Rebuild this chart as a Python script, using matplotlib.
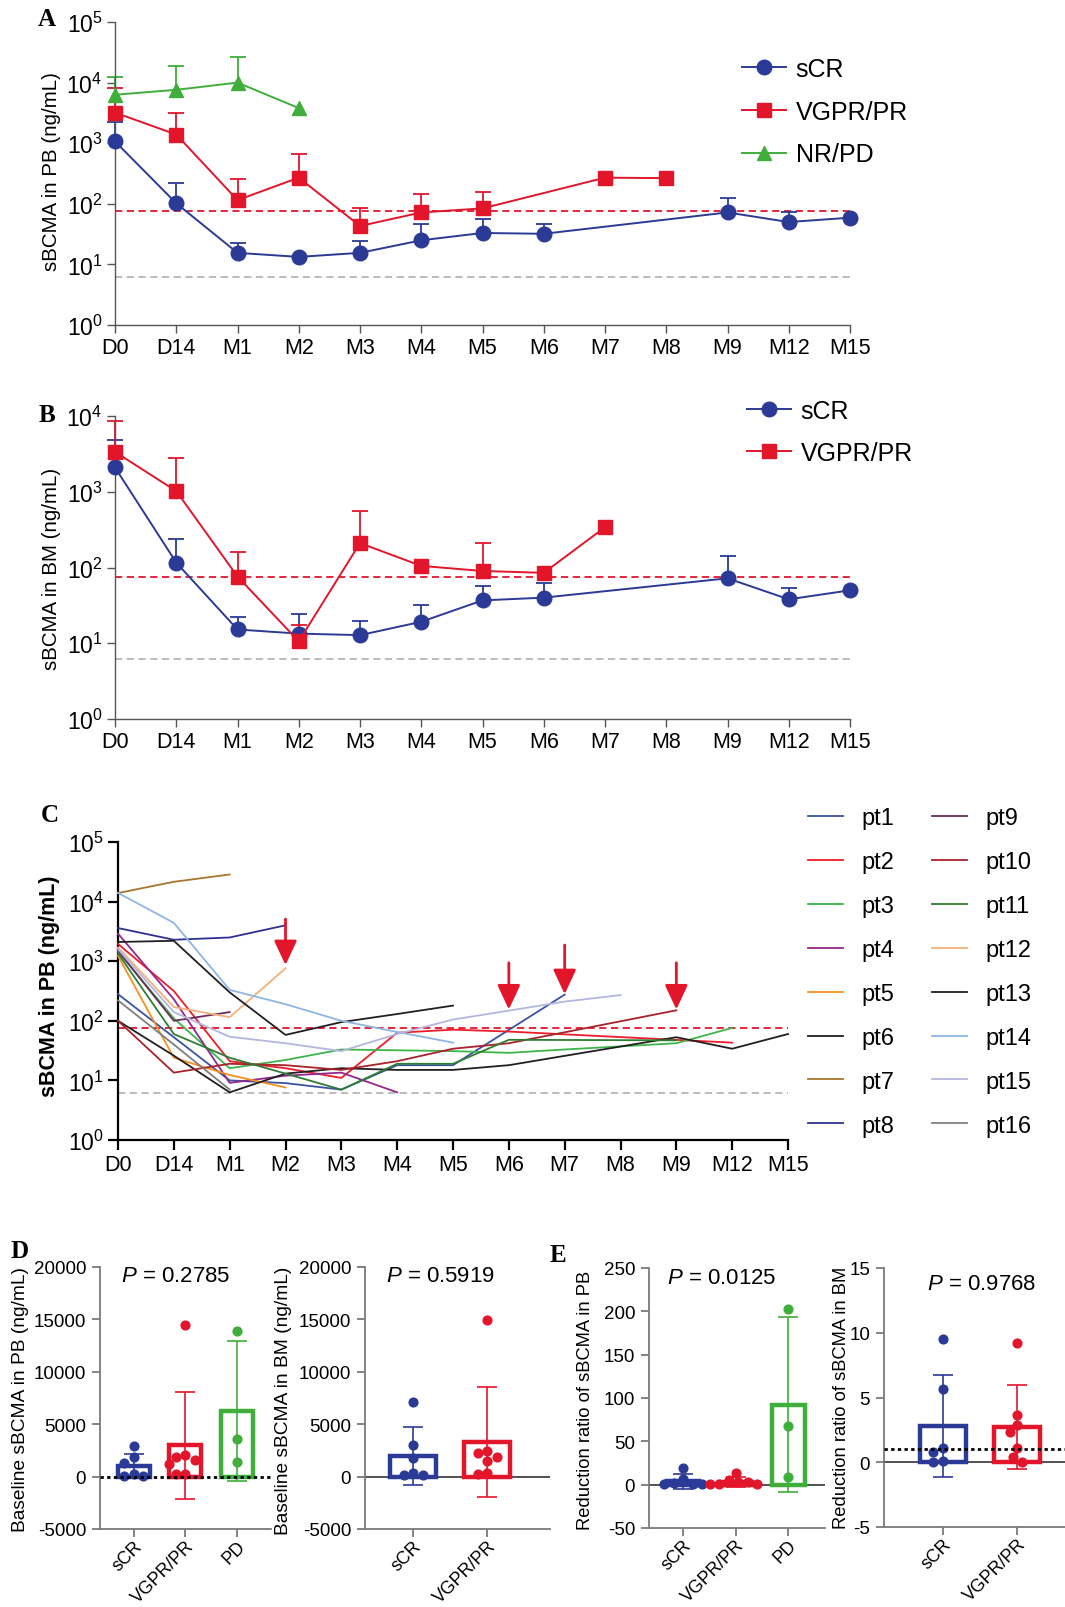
import numpy as np
import matplotlib
matplotlib.use('Agg')
import matplotlib.pyplot as plt

W, H = 1065, 1608
plt.rcParams['font.family'] = ['Liberation Sans', 'DejaVu Sans']
plt.rcParams['mathtext.fontset'] = 'custom'
plt.rcParams['mathtext.rm'] = 'Liberation Sans'
plt.rcParams['mathtext.it'] = 'Liberation Sans:italic'
plt.rcParams['mathtext.bf'] = 'Liberation Sans:bold'
plt.rcParams['axes.unicode_minus'] = False

BLUE, RED, GREEN = '#2b3a96', '#e3152b', '#3fae3a'

TIMEPOINTS = ['D0', 'D14', 'M1', 'M2', 'M3', 'M4', 'M5', 'M6', 'M7', 'M8', 'M9', 'M12', 'M15']

# ---------------- Panel A: sBCMA in PB by response (mean, upper SD end) ----------------
A_scr_t = ['D0', 'D14', 'M1', 'M2', 'M3', 'M4', 'M5', 'M6', 'M9', 'M12', 'M15']
A_scr_v = [1070, 102, 15.5, 13.3, 15.5, 25, 33, 32, 72, 50, 59]
A_scr_up = [2250, 224, 22.6, np.nan, 24.5, 46, 57, 46, 123, 72, np.nan]
A_vg_t = ['D0', 'D14', 'M1', 'M2', 'M3', 'M4', 'M5', 'M7', 'M8']
A_vg_v = [3200, 1390, 115, 270, 43, 72, 84, 270, 265]
A_vg_up = [8100, 3140, 255, 670, 84, 145, 155, np.nan, np.nan]
A_pd_t = ['D0', 'D14', 'M1', 'M2']
A_pd_v = [6300, 7600, 10000, 3800]
A_pd_up = [12600, 19000, 26000, np.nan]

# ---------------- Panel B: sBCMA in BM ----------------
B_scr_t = ['D0', 'D14', 'M1', 'M2', 'M3', 'M4', 'M5', 'M6', 'M9', 'M12', 'M15']
B_scr_v = [2090, 116, 15.2, 13.4, 12.8, 19.2, 36.8, 40, 72, 38, 50]
B_scr_up = [4800, 238, 22.5, 24, 19.5, 32, 57, 62, 140, 53, np.nan]
B_vg_t = ['D0', 'D14', 'M1', 'M2', 'M3', 'M4', 'M5', 'M6', 'M7']
B_vg_v = [3360, 1020, 76, 10.6, 210, 105, 90, 85, 340]
B_vg_up = [8600, 2750, 162, 17.5, 550, np.nan, 210, np.nan, np.nan]

UPPER_LIMIT = 75      # red dashed reference line
DETECT_LIMIT = 6.2    # gray dashed reference line

# ---------------- Panel C: individual patients in PB ----------------
pt1_t = ['D0', 'D14', 'M1', 'M2', 'M3', 'M4', 'M5', 'M7']
pt1_v = [280, 53, 10, 9, 7, 18, 18, 275]
pt2_t = ['D0', 'D14', 'M1', 'M2', 'M3', 'M4', 'M5', 'M6', 'M12']
pt2_v = [1950, 316, 21, 16, 11, 63, 71, 66, 43]
pt3_t = ['D0', 'D14', 'M1', 'M2', 'M3', 'M4', 'M5', 'M6', 'M7', 'M9', 'M12']
pt3_v = [1450, 110, 16, 22, 33, 32, 31, 29, 33, 42, 76]
pt4_t = ['D0', 'D14', 'M1', 'M2', 'M3', 'M4']
pt4_v = [2900, 230, 9.1, 12, 13.5, 6.3]
pt5_t = ['D0', 'D14', 'M1', 'M2']
pt5_v = [1230, 24, 12.3, 7.6]
pt6_t = ['D0', 'D14', 'M1', 'M2', 'M3', 'M4', 'M5', 'M6', 'M9', 'M12', 'M15']
pt6_v = [100, 26, 6.3, 13, 16, 15, 15, 18, 53, 34, 60]
pt7_t = ['D0', 'D14', 'M1']
pt7_v = [13900, 21500, 28500]
pt8_t = ['D0', 'D14', 'M1', 'M2']
pt8_v = [3600, 2290, 2500, 4000]
pt9_t = ['D0', 'D14', 'M1']
pt9_v = [1500, 100, 140]
pt10_t = ['D0', 'D14', 'M1', 'M2', 'M3', 'M4', 'M5', 'M6', 'M9']
pt10_v = [100, 13.5, 19, 18, 15, 21, 34, 42, 150]
pt11_t = ['D0', 'D14', 'M1', 'M2', 'M3', 'M4', 'M5', 'M6', 'M9']
pt11_v = [1350, 60, 24, 13, 7, 19, 19, 48, 47]
pt12_t = ['D0', 'D14', 'M1', 'M2']
pt12_v = [1700, 170, 115, 760]
pt13_t = ['D0', 'D14', 'M1', 'M2', 'M3', 'M4', 'M5']
pt13_v = [2100, 2200, 300, 58, 95, 130, 180]
pt14_t = ['D0', 'D14', 'M1', 'M2', 'M3', 'M4', 'M5']
pt14_v = [14000, 4400, 330, 190, 100, 65, 43]
pt15_t = ['D0', 'D14', 'M1', 'M2', 'M3', 'M4', 'M5', 'M6', 'M7', 'M8']
pt15_v = [1600, 140, 54, 42, 31, 60, 105, 148, 210, 270]
pt16_t = ['D0', 'D14', 'M1']
pt16_v = [220, 40, 7]

C_names = ['pt%d' % i for i in range(1, 17)]
C_times = [pt1_t, pt2_t, pt3_t, pt4_t, pt5_t, pt6_t, pt7_t, pt8_t,
           pt9_t, pt10_t, pt11_t, pt12_t, pt13_t, pt14_t, pt15_t, pt16_t]
C_vals = [pt1_v, pt2_v, pt3_v, pt4_v, pt5_v, pt6_v, pt7_v, pt8_v,
          pt9_v, pt10_v, pt11_v, pt12_v, pt13_v, pt14_v, pt15_v, pt16_v]
C_colors = ['#3a52a3', '#ec1c2a', '#3db54a', '#93278f', '#f7901e', '#231f20',
            '#a6762e', '#2e3192', '#6a2c5c', '#a8232a', '#2e7d34', '#f4b07a',
            '#231f20', '#8db6e4', '#b4b6e0', '#7f7f7f']

# progression arrows (time point, arrow start, arrow tip)
arrow_t = ['M2', 'M6', 'M7', 'M9']
arrow_start = [5100, 940, 1870, 940]
arrow_tip = [860, 155, 280, 155]

# ---------------- Panels D / E ----------------
D_groups3 = ['sCR', 'VGPR/PR', 'PD']
D_groups2 = ['sCR', 'VGPR/PR']

D_pb_scr = [2920, 1840, 1330, 250, 50, 50]
D_pb_vg = [14470, 2060, 1900, 1590, 1200, 220, 220]
D_pb_pd = [13860, 3580, 1400]
D_pb_mean = [1050, 3000, 6250]
D_pb_sd = [1150, 5100, 6650]
D_pb_p = '0.2785'

D_bm_scr = [7100, 3000, 1800, 300, 150, 150]
D_bm_vg = [14900, 2440, 2280, 1870, 1490, 300, 250]
D_bm_mean = [1970, 3270]
D_bm_sd = [2800, 5250]
D_bm_p = '0.5919'

E_pb_scr = [19, 7, 1.5, 0.5, 0.3, 0.2]
E_pb_vg = [14, 5, 3, 3, 1, 0.5, 0.3]
E_pb_pd = [203, 68, 9]
E_pb_mean = [3.8, 3.5, 92]
E_pb_sd = [8.5, 5.7, 101]
E_pb_p = '0.0125'

E_bm_scr = [9.5, 5.67, 1.09, 0.83, 0.13, 0.0]
E_bm_vg = [9.24, 3.67, 2.9, 2.35, 1.09, 0.44, 0.0]
E_bm_mean = [2.8, 2.72]
E_bm_sd = [3.95, 3.22]
E_bm_p = '0.9768'

fig = plt.figure(figsize=(W / 100, H / 100), dpi=100)


def axes_px(l, t, r, b):
    return fig.add_axes([l / W, 1 - b / H, (r - l) / W, (b - t) / H])


def idx(tlist):
    return [TIMEPOINTS.index(s) for s in tlist]


def style_log_axis(ax, top_exp, color, lw, ticklen, xfs, yfs):
    ax.set_yscale('log')
    ax.set_ylim(1, 10 ** top_exp)
    ax.set_xlim(0, 12)
    for s in ['top', 'right']:
        ax.spines[s].set_visible(False)
    for s in ['left', 'bottom']:
        ax.spines[s].set_color(color)
        ax.spines[s].set_linewidth(lw)
    ax.set_xticks(range(len(TIMEPOINTS)))
    ax.set_xticklabels(TIMEPOINTS, fontsize=xfs)
    ax.set_yticks([10 ** k for k in range(top_exp + 1)])
    ax.set_yticklabels(['$10^{%d}$' % k for k in range(top_exp + 1)], fontsize=yfs)
    ax.yaxis.set_minor_locator(matplotlib.ticker.NullLocator())
    ax.tick_params(direction='out', length=ticklen, width=lw, color=color, pad=3)
    ax.axhline(UPPER_LIMIT, color=RED, ls=(0, (4, 2.5)), lw=1.3, zorder=1)
    ax.axhline(DETECT_LIMIT, color='#b5b5b5', ls=(0, (4, 2.5)), lw=1.3, zorder=1)


def group_series(ax, t, v, up, color, marker, label):
    x = np.array(idx(t), float)
    v = np.array(v, float)
    up = np.array(up, float)
    m = ~np.isnan(up)
    ax.vlines(x[m], v[m], up[m], color=color, lw=1.3, zorder=2, clip_on=False)
    ax.plot(x[m], up[m], ls='none', marker='_', ms=12, mew=1.3, color=color,
            zorder=2, clip_on=False)
    ax.plot(x, v, color=color, lw=1.4, marker=marker, ms=10.5, label=label,
            zorder=3, clip_on=False)


# ---------- A ----------
axA = axes_px(115, 23, 850, 326)
group_series(axA, A_scr_t, A_scr_v, A_scr_up, BLUE, 'o', 'sCR')
group_series(axA, A_vg_t, A_vg_v, A_vg_up, RED, 's', 'VGPR/PR')
group_series(axA, A_pd_t, A_pd_v, A_pd_up, GREEN, '^', 'NR/PD')
style_log_axis(axA, 5, '#555555', 1.0, 6, 15.5, 16.5)
axA.legend(loc='upper left', bbox_to_anchor=(742 / W, 1 - 58 / H),
           bbox_transform=fig.transFigure, frameon=False, fontsize=18,
           handlelength=1.75, handletextpad=0.4, labelspacing=0.75,
           borderaxespad=0, borderpad=0)

# ---------- B ----------
axB = axes_px(115, 417, 850, 720)
group_series(axB, B_scr_t, B_scr_v, B_scr_up, BLUE, 'o', 'sCR')
group_series(axB, B_vg_t, B_vg_v, B_vg_up, RED, 's', 'VGPR/PR')
style_log_axis(axB, 4, '#555555', 1.0, 6, 15.5, 16.5)
axB.legend(loc='upper left', bbox_to_anchor=(747 / W, 1 - 400 / H),
           bbox_transform=fig.transFigure, frameon=False, fontsize=18,
           handlelength=1.75, handletextpad=0.4, labelspacing=0.72,
           borderaxespad=0, borderpad=0)

# ---------- C ----------
axC = axes_px(118, 843, 788, 1141)
for name, t, v, c in zip(C_names, C_times, C_vals, C_colors):
    axC.plot(idx(t), v, color=c, lw=1.3, label=name, zorder=3, clip_on=False)
for t, s, e in zip(arrow_t, arrow_start, arrow_tip):
    xi = TIMEPOINTS.index(t)
    axC.annotate('', xy=(xi, e), xytext=(xi, s),
                 arrowprops=dict(arrowstyle='-|>,head_length=0.75,head_width=0.35',
                                 color='#e3152b', lw=2, shrinkA=0, shrinkB=0,
                                 mutation_scale=20), zorder=4)
style_log_axis(axC, 5, 'black', 1.6, 7, 15.5, 16.5)
axC.legend(loc='upper left', bbox_to_anchor=(808 / W, 1 - 808 / H),
           bbox_transform=fig.transFigure, frameon=False, fontsize=17, ncol=2,
           handlelength=1.5, handletextpad=0.75, labelspacing=0.93,
           columnspacing=1.6, borderaxespad=0, borderpad=0)


# ---------- D / E ----------
def swarm(values, ylim, ax_h_px, x_unit_px, d_px=9.5):
    scale = ax_h_px / (ylim[1] - ylim[0])
    ys = np.array(values, float) * scale
    order = np.argsort(-ys)
    placed = []
    offs = np.zeros(len(ys))
    step = d_px / 4
    for i in order:
        chosen = 0.0
        for k in range(0, 200):
            cands = [0.0] if k == 0 else [-k * step, k * step]
            found = None
            for c in cands:
                if all((c - px) ** 2 + (ys[i] - py) ** 2 >= d_px ** 2 for px, py in placed):
                    found = c
                    break
            if found is not None:
                chosen = found
                break
        offs[i] = chosen / x_unit_px
        placed.append((chosen, ys[i]))
    return offs


def bar_panel(box, names, point_sets, means, sds, colors, ylim, yticks, xlim,
              ylabel, ylab_xy, ylab_fs, ptxt, pxy, zero_dotted, dotted_one=False):
    l, t, r, b = box
    ax = axes_px(l, t, r, b)
    ax.set_xlim(*xlim)
    ax.set_ylim(*ylim)
    x_unit_px = (r - l) / (xlim[1] - xlim[0])
    for i, (vals, mu, sd, c) in enumerate(zip(point_sets, means, sds, colors)):
        ax.bar(i, mu, width=0.62, facecolor='white', edgecolor=c, linewidth=3.2, zorder=2)
        ax.errorbar(i, mu, yerr=sd, fmt='none', ecolor=c, elinewidth=1.2,
                    capsize=7.5, capthick=1.2, zorder=3)
        offs = swarm(vals, ylim, b - t, x_unit_px)
        ax.plot(i + offs, vals, ls='none', marker='o', ms=6.3, color=c, zorder=4,
                clip_on=False)
    if zero_dotted:
        ax.axhline(0, color='black', ls=(0, (1.2, 1.2)), lw=2.0, zorder=5)
    else:
        ax.axhline(0, color='#333333', lw=1.2, zorder=1)
    if dotted_one:
        ax.axhline(1, color='black', ls=(0, (1.2, 1.2)), lw=2.0, zorder=5)
    for s in ['top', 'right']:
        ax.spines[s].set_visible(False)
    for s in ['left', 'bottom']:
        ax.spines[s].set_color('#7a7a7a')
        ax.spines[s].set_linewidth(1.3)
    ax.set_yticks(yticks)
    ax.set_yticklabels([str(v) for v in yticks], fontsize=13.5)
    ax.set_xticks(range(len(names)))
    ax.set_xticklabels(names, rotation=45, ha='right', rotation_mode='anchor',
                       fontsize=12.8)
    ax.tick_params(direction='out', length=6, width=1.3, color='#7a7a7a', pad=4)
    ax.tick_params(axis='x', pad=0)
    fig.text(ylab_xy[0] / W, 1 - ylab_xy[1] / H, ylabel, rotation=90,
             ha='center', va='center', fontsize=ylab_fs)
    fig.text(pxy[0] / W, 1 - pxy[1] / H, '$P$ = ' + ptxt, ha='center',
             va='center', fontsize=16)
    return ax


bar_panel((100, 1268, 271, 1530), D_groups3, [D_pb_scr, D_pb_vg, D_pb_pd],
          D_pb_mean, D_pb_sd, [BLUE, RED, GREEN], (-5000, 20000),
          [-5000, 0, 5000, 10000, 15000, 20000], (-0.65, 2.66),
          'Baseline sBCMA in PB (ng/mL)', (21, 1400), 13.8, D_pb_p, (176, 1277), True)
bar_panel((365, 1268, 550, 1530), D_groups2, [D_bm_scr, D_bm_vg],
          D_bm_mean, D_bm_sd, [BLUE, RED], (-5000, 20000),
          [-5000, 0, 5000, 10000, 15000, 20000], (-0.65, 1.85),
          'Baseline sBCMA in BM (ng/mL)', (284, 1401), 13.8, D_bm_p, (440, 1277), False)
bar_panel((649, 1269, 825, 1529), D_groups3, [E_pb_scr, E_pb_vg, E_pb_pd],
          E_pb_mean, E_pb_sd, [BLUE, RED, GREEN], (-50, 250),
          [-50, 0, 50, 100, 150, 200, 250], (-0.65, 2.7),
          'Reduction ratio of sBCMA in PB', (585, 1400), 13.2, E_pb_p, (722, 1279), False)
bar_panel((884, 1269, 1065, 1528), D_groups2, [E_bm_scr, E_bm_vg],
          E_bm_mean, E_bm_sd, [BLUE, RED], (-5, 15),
          [-5, 0, 5, 10, 15], (-0.79, 1.64),
          'Reduction ratio of sBCMA in BM', (841, 1398), 13.2, E_bm_p, (982, 1285), False,
          dotted_one=True)

# ---------- axis labels and panel letters ----------
fig.text(52 / W, 1 - 172 / H, 'sBCMA in PB (ng/mL)', rotation=90, ha='center',
         va='center', fontsize=14.8)
fig.text(52 / W, 1 - 569 / H, 'sBCMA in BM (ng/mL)', rotation=90, ha='center',
         va='center', fontsize=14.8)
fig.text(50 / W, 1 - 986 / H, 'sBCMA in PB (ng/mL)', rotation=90, ha='center',
         va='center', fontsize=15.5, fontweight='bold')

for letter, (x, y) in zip('ABCDE', [(47, 20), (47, 416), (50, 816), (20, 1251), (558, 1256)]):
    fig.text(x / W, 1 - y / H, letter, fontsize=18, fontweight='bold',
             family=['Liberation Serif', 'DejaVu Serif'], ha='center', va='center')

fig.savefig('out.png', dpi=100)
